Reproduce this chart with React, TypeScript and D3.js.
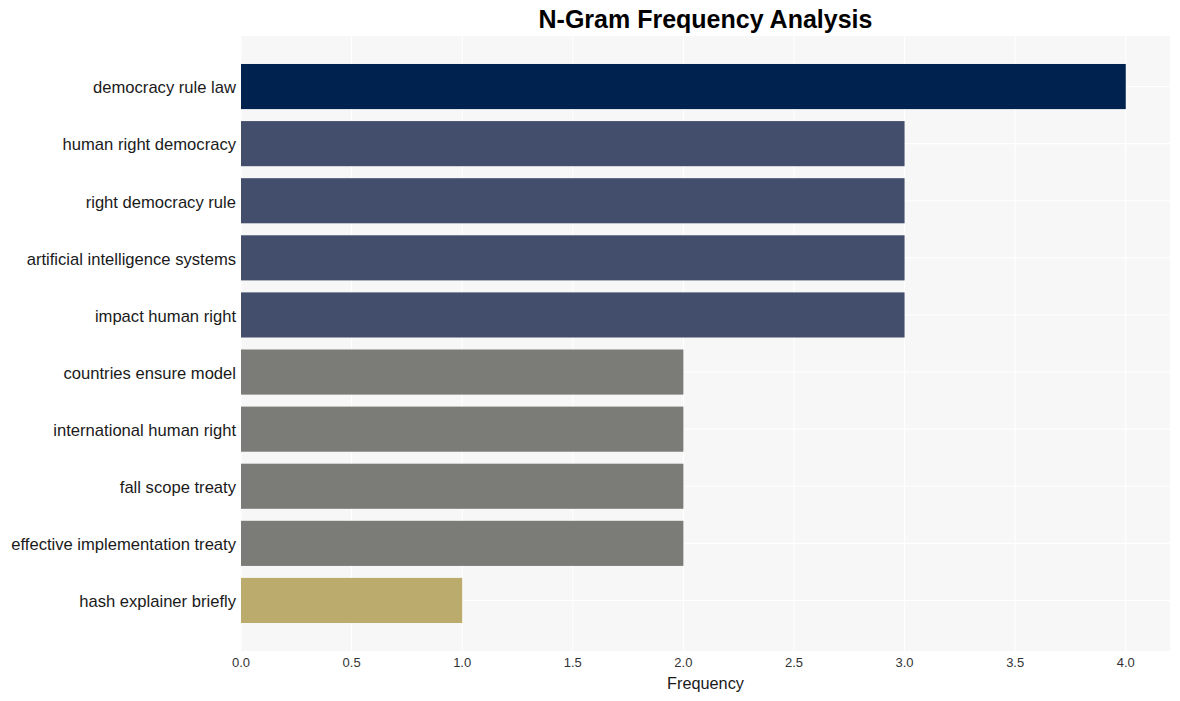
import React from "react";
import * as d3 from "d3";

const categories = [
  "democracy rule law",
  "human right democracy",
  "right democracy rule",
  "artificial intelligence systems",
  "impact human right",
  "countries ensure model",
  "international human right",
  "fall scope treaty",
  "effective implementation treaty",
  "hash explainer briefly",
];
const values = [4, 3, 3, 3, 3, 2, 2, 2, 2, 1];
const xTicks = [0, 0.5, 1, 1.5, 2, 2.5, 3, 3.5, 4];

const colorScale = d3
  .scaleOrdinal<number, string>()
  .domain([4, 3, 2, 1])
  .range(["#00224e", "#434e6c", "#7b7b78", "#bbac6e"]);

export default function App() {
  const W = 1180;
  const H = 701;
  const left = 241;
  const right = 1170;
  const top = 36;
  const bottom = 651;
  const x = d3.scaleLinear().domain([0, 4.2]).range([left, right]);
  const y = d3.scalePoint<string>().domain(categories).range([top, bottom]).padding(0.885);
  const step = y.step();
  const bh = step * 0.79;
  const font = "'Liberation Sans', Arial, sans-serif";
  return (
    <svg
      width={W}
      height={H}
      style={{ position: "absolute", left: 0, top: 0, background: "#fff" }}
      fontFamily={font}
    >
      <rect x={left} y={top} width={right - left} height={bottom - top} fill="#f7f7f7" />
      {xTicks.map((t) => (
        <line key={"g" + t} x1={x(t)} x2={x(t)} y1={top} y2={bottom} stroke="#ffffff" strokeWidth={1.1} />
      ))}
      {categories.map((c) => (
        <line key={"h" + c} x1={left} x2={right} y1={y(c)} y2={y(c)} stroke="#ffffff" strokeWidth={1.1} />
      ))}
      {categories.map((c, i) => (
        <rect
          key={"b" + c}
          x={x(0)}
          y={(y(c) as number) - bh / 2}
          width={x(values[i]) - x(0)}
          height={bh}
          fill={colorScale(values[i])}
        />
      ))}
      {categories.map((c) => (
        <text
          key={"l" + c}
          x={left - 5}
          y={(y(c) as number) + 1}
          dy="0.35em"
          textAnchor="end"
          fontSize={16.6}
          fill="#1a1a1a"
        >
          {c}
        </text>
      ))}
      {xTicks.map((t) => (
        <text key={"t" + t} x={x(t)} y={667} textAnchor="middle" fontSize={13} fill="#333333">
          {t.toFixed(1)}
        </text>
      ))}
      <text x={(left + right) / 2} y={689} textAnchor="middle" fontSize={16.3} fill="#1a1a1a">
        Frequency
      </text>
      <text x={(left + right) / 2} y={28} textAnchor="middle" fontSize={25} fontWeight="bold" fill="#000">
        N-Gram Frequency Analysis
      </text>
    </svg>
  );
}
